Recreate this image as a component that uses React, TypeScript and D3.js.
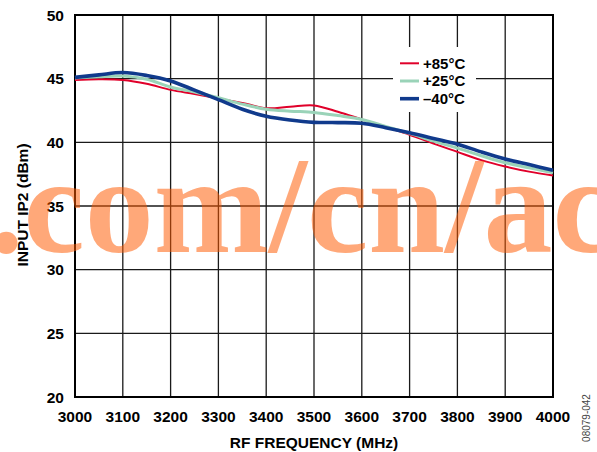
import React from "react";
import * as d3 from "d3";

const freqs = [3000, 3050, 3100, 3150, 3200, 3250, 3300, 3350, 3400, 3450, 3500, 3550, 3600, 3650, 3700, 3750, 3800, 3850, 3900, 3950, 4000];
const ip2Plus85 = [44.9, 44.95, 44.9, 44.6, 44.12, 43.8, 43.45, 43.1, 42.68, 42.8, 42.9, 42.4, 41.8, 41.2, 40.6, 39.9, 39.25, 38.6, 38.1, 37.7, 37.4];
const ip2Plus25 = [45.05, 45.15, 45.2, 44.95, 44.35, 43.95, 43.5, 43.0, 42.6, 42.45, 42.35, 42.1, 41.8, 41.25, 40.7, 40.1, 39.55, 38.95, 38.4, 38.0, 37.6];
const ip2Minus40 = [45.1, 45.3, 45.48, 45.25, 44.82, 44.1, 43.35, 42.6, 42.05, 41.75, 41.57, 41.55, 41.5, 41.15, 40.75, 40.3, 39.85, 39.25, 38.7, 38.25, 37.8];

const xTicks = [3000, 3100, 3200, 3300, 3400, 3500, 3600, 3700, 3800, 3900, 4000];
const yTicks = [20, 25, 30, 35, 40, 45, 50];

const seriesNames = ["+85°C", "+25°C", "–40°C"];
const seriesColors = ["#E0002A", "#9AD3B8", "#103A8C"];
const seriesWidths = [2, 3, 3.6];

export default function App() {
  const W = 597, H = 452;
  const left = 75, right = 553, top = 15, bottom = 397;
  const x = d3.scaleLinear().domain([3000, 4000]).range([left, right]);
  const y = d3.scaleLinear().domain([20, 50]).range([bottom, top]);
  const series = [ip2Plus85, ip2Plus25, ip2Minus40];
  const line = d3
    .line<number>()
    .x((_, i) => x(freqs[i]))
    .y((v) => y(v))
    .curve(d3.curveCatmullRom.alpha(0.5));
  const font = "'Liberation Sans', Arial, sans-serif";

  return (
    <svg width={W} height={H} style={{ position: "absolute", left: 0, top: 0 }}>
      <rect x={0} y={0} width={W} height={H} fill="#fff" />
      {xTicks.map((t) => (
        <line key={"gx" + t} x1={x(t)} x2={x(t)} y1={top} y2={bottom} stroke="#1a1a1a" strokeWidth={1.3} />
      ))}
      {yTicks.map((t) => (
        <line key={"gy" + t} x1={left} x2={right} y1={y(t)} y2={y(t)} stroke="#1a1a1a" strokeWidth={1.3} />
      ))}
      <rect x={393} y={47} width={83} height={65} fill="#fff" />
      <rect x={left} y={top} width={right - left} height={bottom - top} fill="none" stroke="#000" strokeWidth={2} />
      {series.map((s, i) => (
        <path key={"s" + i} d={line(s) || ""} fill="none" stroke={seriesColors[i]} strokeWidth={seriesWidths[i]} strokeLinejoin="round" />
      ))}
      {seriesNames.map((n, i) => (
        <g key={"lg" + i}>
          <line x1={400} x2={419} y1={63.3 + i * 17.7} y2={63.3 + i * 17.7} stroke={seriesColors[i]} strokeWidth={seriesWidths[i]} />
          <text x={423} y={63.3 + i * 17.7} dy="0.36em" fontFamily={font} fontWeight="bold" fontSize={15}>{n}</text>
        </g>
      ))}
      {yTicks.map((t) => (
        <text key={"ty" + t} x={64} y={y(t)} dy="0.36em" textAnchor="end" fontFamily={font} fontWeight="bold" fontSize={15.5}>{t}</text>
      ))}
      {xTicks.map((t) => (
        <text key={"tx" + t} x={x(t)} y={421.5} textAnchor="middle" fontFamily={font} fontWeight="bold" fontSize={15.5}>{t}</text>
      ))}
      <text x={314} y={448} textAnchor="middle" fontFamily={font} fontWeight="bold" fontSize={15.5}>RF FREQUENCY (MHz)</text>
      <text transform="translate(28,205) rotate(-90)" textAnchor="middle" fontFamily={font} fontWeight="bold" fontSize={15.5}>INPUT IP2 (dBm)</text>
      <text transform="translate(590,418) rotate(-90)" textAnchor="middle" fontFamily={font} fontSize={10} fill="#444">08079-042</text>
      <text x={-11} y={252} fontFamily="'Liberation Serif', 'Times New Roman', serif" fontWeight="bold" fontSize={138} fill="#FF5A00" opacity={0.52}>.com/cn/ac</text>
    </svg>
  );
}
